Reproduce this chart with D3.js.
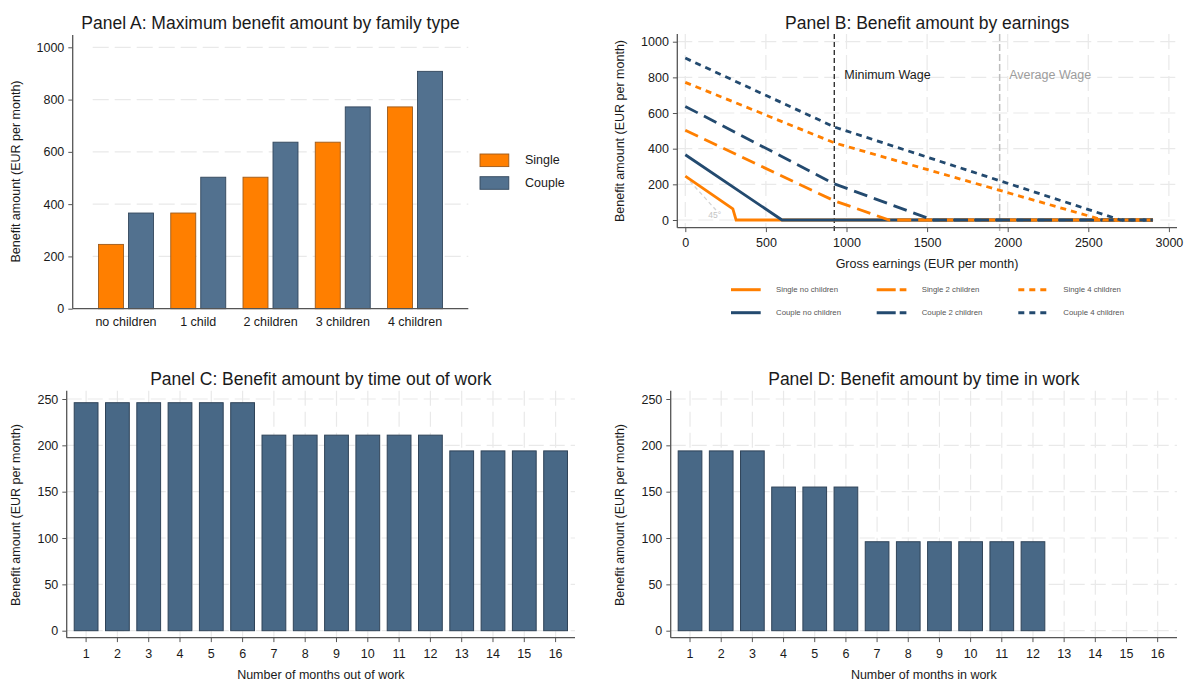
<!DOCTYPE html>
<html>
<head>
<meta charset="utf-8">
<script src="https://cdn.jsdelivr.net/npm/d3@7"></script>
<style>
  html, body { margin: 0; padding: 0; background: #ffffff; }
  svg { display: block; font-family: "Liberation Sans", Arial, sans-serif; }
</style>
</head>
<body>
<svg id="chart" width="1185" height="682"></svg>
<script>
// ---- Panel A: maximum benefit by family type ----
const familyTypes = ["no children", "1 child", "2 children", "3 children", "4 children"];
const householdTypes = ["Single", "Couple"];
const singleMax = [246, 366, 503, 637, 772];
const coupleMax = [366, 503, 637, 772, 908];
const ticksA = [0, 200, 400, 600, 800, 1000];

// ---- Panel B: benefit schedule by gross earnings (kink points) ----
const earnSingle0 = [0, 295, 315, 2900];
const benSingle0  = [246, 62, 0, 0];
const earnCouple0 = [0, 600, 2900];
const benCouple0  = [366, 0, 0];
const earnSingle2 = [0, 924, 1265, 2900];
const benSingle2  = [503, 108, 0, 0];
const earnCouple2 = [0, 924, 1535, 2900];
const benCouple2  = [637, 203, 0, 0];
const earnSingle4 = [0, 924, 2590, 2900];
const benSingle4  = [772, 433, 0, 0];
const earnCouple4 = [0, 924, 2700, 2900];
const benCouple4  = [908, 522, 0, 0];
const minimumWage = 924;
const averageWage = 1950;
const ticksBx = [0, 500, 1000, 1500, 2000, 2500, 3000];
const ticksBy = [0, 200, 400, 600, 800, 1000];
const legendNamesB = ["Single no children", "Single 2 children", "Single 4 children",
                      "Couple no children", "Couple 2 children", "Couple 4 children"];

// ---- Panels C and D: benefit by months out of / in work ----
const months = d3.range(1, 17).map(String);
const benefitOutOfWork = [246, 246, 246, 246, 246, 246, 211, 211, 211, 211, 211, 211, 194, 194, 194, 194];
const benefitInWork = [194, 194, 194, 155, 155, 155, 96, 96, 96, 96, 96, 96];
const ticksCD = [0, 50, 100, 150, 200, 250];

// ---- styles ----
const ORANGE = "#ff7f00";
const NAVY_LINE = "#234a6f";
const NAVY_BAR_A = "#52718f";
const NAVY_BAR = "#486886";
const GRID = "#e9e9e9";
const AXIS = "#555555";
const TEXT = "#1a1a1a";
const FS = 12.5;
const plain = d3.format("d");

const svg = d3.select("#chart");

function styleAxis(g, labelOffset, isX) {
  g.select(".domain").remove();
  g.selectAll(".tick line").attr("stroke", AXIS).attr("stroke-width", 1);
  g.selectAll(".tick text")
    .attr("fill", TEXT)
    .style("font-size", FS + "px")
    .attr("dy", null)
    .attr("dominant-baseline", "central");
  if (isX) g.selectAll(".tick text").attr("y", labelOffset);
  else g.selectAll(".tick text").attr("x", -labelOffset);
}

function axisLines(g, x0, x1, yTop, yAxis) {
  g.append("line").attr("x1", x0).attr("x2", x0).attr("y1", yTop).attr("y2", yAxis)
    .attr("stroke", AXIS).attr("stroke-width", 1.3);
  g.append("line").attr("x1", x0).attr("x2", x1).attr("y1", yAxis).attr("y2", yAxis)
    .attr("stroke", AXIS).attr("stroke-width", 1.3);
}

function title(text, x, y) {
  svg.append("text").attr("x", x).attr("y", y).attr("text-anchor", "middle")
    .attr("fill", TEXT).style("font-size", "17.5px").text(text);
}

function yTitle(text, x, y) {
  svg.append("text").attr("transform", `translate(${x},${y}) rotate(-90)`)
    .attr("text-anchor", "middle").attr("dominant-baseline", "central")
    .attr("fill", TEXT).style("font-size", FS + "px").text(text);
}

function xTitle(text, x, y) {
  svg.append("text").attr("x", x).attr("y", y).attr("text-anchor", "middle")
    .attr("dominant-baseline", "central")
    .attr("fill", TEXT).style("font-size", FS + "px").text(text);
}

// =================== Panel A ===================
(function () {
  const left = 72.7, right = 468.3, axisY = 308.7, top = 35;
  const y = d3.scaleLinear().domain([0, 1000]).range([308.7, 47.3]);
  const x0 = d3.scaleBand().domain(familyTypes).range([left, right])
    .paddingInner(0.239).paddingOuter(0.357);
  const x1 = d3.scaleBand().domain(householdTypes).range([0, x0.bandwidth()])
    .paddingInner(0.167).paddingOuter(0);
  const g = svg.append("g");

  g.append("g").selectAll("line").data(ticksA.filter(d => d > 0)).join("line")
    .attr("x1", left + 20).attr("x2", right).attr("y1", d => y(d)).attr("y2", d => y(d))
    .attr("stroke", GRID).attr("stroke-width", 1.2).attr("stroke-dasharray", "16,6");

  const rows = familyTypes.map((f, i) => ({ f, vals: [singleMax[i], coupleMax[i]] }));
  g.append("g").selectAll("g").data(rows).join("g")
    .attr("transform", d => `translate(${x0(d.f)},0)`)
    .selectAll("rect").data(d => d.vals.map((v, j) => ({ k: householdTypes[j], v })))
    .join("rect")
    .attr("x", d => x1(d.k)).attr("width", x1.bandwidth())
    .attr("y", d => y(d.v)).attr("height", d => y(0) - y(d.v))
    .attr("fill", d => d.k === "Single" ? ORANGE : NAVY_BAR_A)
    .attr("stroke", d => d.k === "Single" ? "#9c5a1c" : "#33475c")
    .attr("stroke-width", 0.9);

  const ya = g.append("g").attr("transform", `translate(${left},0)`)
    .call(d3.axisLeft(y).tickValues(ticksA).tickFormat(plain).tickSize(4.4).tickSizeOuter(0));
  styleAxis(ya, 8.4, false);
  const xa = g.append("g").attr("transform", `translate(0,${axisY})`)
    .call(d3.axisBottom(x0).tickSize(0).tickSizeOuter(0));
  styleAxis(xa, 13, true);
  axisLines(g, left, right, top, axisY);

  // legend
  const lg = g.append("g");
  householdTypes.forEach((k, i) => {
    const cy = 160.3 + i * 22.7;
    lg.append("rect").attr("x", 480).attr("y", cy - 6.3).attr("width", 28.8).attr("height", 12.6)
      .attr("fill", k === "Single" ? ORANGE : NAVY_BAR_A)
      .attr("stroke", k === "Single" ? "#9c5a1c" : "#33475c").attr("stroke-width", 0.9);
    lg.append("text").attr("x", 525).attr("y", cy).attr("dominant-baseline", "central")
      .attr("fill", TEXT).style("font-size", FS + "px").text(k);
  });

  title("Panel A: Maximum benefit amount by family type", (left + right) / 2, 29);
  yTitle("Benefit amount (EUR per month)", 16, 171.5);
})();

// =================== Panel B ===================
(function () {
  const left = 677.3, right = 1177, axisY = 227.7, top = 34;
  const x = d3.scaleLinear().domain([0, 3000]).range([685.3, 1168.9]);
  const y = d3.scaleLinear().domain([0, 1000]).range([220, 41.7]);
  const g = svg.append("g");

  // grid
  g.append("g").selectAll("line").data(ticksBy).join("line")
    .attr("x1", left).attr("x2", right).attr("y1", d => y(d)).attr("y2", d => y(d))
    .attr("stroke", GRID).attr("stroke-width", 1.2).attr("stroke-dasharray", "15,6");
  g.append("g").selectAll("line").data(ticksBx).join("line")
    .attr("x1", d => x(d)).attr("x2", d => x(d)).attr("y1", top).attr("y2", axisY)
    .attr("stroke", GRID).attr("stroke-width", 1.2).attr("stroke-dasharray", "15,6");

  // 45 degree reference
  g.append("line")
    .attr("x1", x(0)).attr("y1", y(246)).attr("x2", x(190)).attr("y2", y(56))
    .attr("stroke", "#d4d4d4").attr("stroke-width", 1.3).attr("stroke-dasharray", "4,3");
  g.append("text").attr("x", x(182)).attr("y", y(28)).attr("text-anchor", "middle")
    .attr("dominant-baseline", "central").attr("fill", "#c4c4c4")
    .style("font-size", "8.5px").text("45°");

  // wage markers
  g.append("line").attr("x1", x(minimumWage)).attr("x2", x(minimumWage))
    .attr("y1", top).attr("y2", axisY + 4.4)
    .attr("stroke", "#111").attr("stroke-width", 1.2).attr("stroke-dasharray", "5,3");
  g.append("line").attr("x1", x(averageWage)).attr("x2", x(averageWage))
    .attr("y1", top).attr("y2", axisY + 4.4)
    .attr("stroke", "#bdbdbd").attr("stroke-width", 1.5).attr("stroke-dasharray", "7,3");
  g.append("text").attr("x", x(minimumWage) + 10).attr("y", 75)
    .attr("dominant-baseline", "central").attr("fill", TEXT)
    .style("font-size", FS + "px").text("Minimum Wage");
  g.append("text").attr("x", x(averageWage) + 9.5).attr("y", 75)
    .attr("dominant-baseline", "central").attr("fill", "#9c9c9c")
    .style("font-size", FS + "px").text("Average Wage");

  const LONG = "14,7", SHORT = "6,5";
  const series = [
    { e: earnSingle0, b: benSingle0, c: ORANGE, d: null },
    { e: earnCouple0, b: benCouple0, c: NAVY_LINE, d: null },
    { e: earnSingle2, b: benSingle2, c: ORANGE, d: LONG },
    { e: earnCouple2, b: benCouple2, c: NAVY_LINE, d: LONG },
    { e: earnSingle4, b: benSingle4, c: ORANGE, d: SHORT },
    { e: earnCouple4, b: benCouple4, c: NAVY_LINE, d: SHORT }
  ];
  const line = d3.line().x(p => x(p[0])).y(p => y(p[1]));
  g.append("g").selectAll("path").data(series).join("path")
    .attr("d", s => line(s.e.map((v, i) => [v, s.b[i]])))
    .attr("fill", "none").attr("stroke", s => s.c).attr("stroke-width", 2.8)
    .attr("stroke-dasharray", s => s.d);

  const ya = g.append("g").attr("transform", `translate(${left},0)`)
    .call(d3.axisLeft(y).tickValues(ticksBy).tickFormat(plain).tickSize(4.4).tickSizeOuter(0));
  styleAxis(ya, 8.4, false);
  const xa = g.append("g").attr("transform", `translate(0,${axisY})`)
    .call(d3.axisBottom(x).tickValues(ticksBx).tickFormat(plain).tickSize(4.4).tickSizeOuter(0));
  styleAxis(xa, 15.6, true);
  axisLines(g, left, right, top, axisY);

  // legend (3 columns x 2 rows)
  const colX = [731, 876.7, 1018.3];
  const rowY = [289.7, 312.7];
  const legendStyle = [
    [ORANGE, null], [ORANGE, "19,4"], [ORANGE, SHORT],
    [NAVY_LINE, null], [NAVY_LINE, "19,4"], [NAVY_LINE, SHORT]
  ];
  legendNamesB.forEach((name, i) => {
    const cx = colX[i % 3], cy = rowY[Math.floor(i / 3)];
    g.append("line").attr("x1", cx).attr("x2", cx + 29.7).attr("y1", cy).attr("y2", cy)
      .attr("stroke", legendStyle[i][0]).attr("stroke-width", 3)
      .attr("stroke-dasharray", legendStyle[i][1]);
    g.append("text").attr("x", cx + 45).attr("y", cy).attr("dominant-baseline", "central")
      .attr("fill", "#555").style("font-size", "7.8px").text(name);
  });

  title("Panel B: Benefit amount by earnings", (left + right) / 2, 29);
  yTitle("Benefit amount (EUR per month)", 620.4, 131);
  xTitle("Gross earnings (EUR per month)", 927, 264.3);
})();

// =================== Panels C and D ===================
function monthPanel(values, left, right, panelTitle, axisTitle) {
  const axisY = 637.7, top = 390.7;
  const x = d3.scaleBand().domain(months).range([left, right]).paddingInner(0.24).paddingOuter(0.24);
  const y = d3.scaleLinear().domain([0, 250]).range([630.7, 399]);
  const g = svg.append("g");

  g.append("g").selectAll("line").data(ticksCD).join("line")
    .attr("x1", left).attr("x2", right).attr("y1", d => y(d)).attr("y2", d => y(d))
    .attr("stroke", GRID).attr("stroke-width", 1.2).attr("stroke-dasharray", "15,6");
  g.append("g").selectAll("line").data(months).join("line")
    .attr("x1", d => x(d) + x.bandwidth() / 2).attr("x2", d => x(d) + x.bandwidth() / 2)
    .attr("y1", top).attr("y2", axisY)
    .attr("stroke", GRID).attr("stroke-width", 1.2).attr("stroke-dasharray", "15,6");

  g.append("g").selectAll("rect").data(values).join("rect")
    .attr("x", (d, i) => x(months[i])).attr("width", x.bandwidth())
    .attr("y", d => y(d)).attr("height", d => y(0) - y(d))
    .attr("fill", NAVY_BAR).attr("stroke", "#2f4358").attr("stroke-width", 1);

  const ya = g.append("g").attr("transform", `translate(${left},0)`)
    .call(d3.axisLeft(y).tickValues(ticksCD).tickFormat(plain).tickSize(4.4).tickSizeOuter(0));
  styleAxis(ya, 8.4, false);
  const xa = g.append("g").attr("transform", `translate(0,${axisY})`)
    .call(d3.axisBottom(x).tickSize(4.4).tickSizeOuter(0));
  styleAxis(xa, 16.6, true);
  axisLines(g, left, right, top, axisY);

  title(panelTitle, (left + right) / 2, 385);
  yTitle("Benefit amount (EUR per month)", left - 50.7, 515);
  xTitle(axisTitle, (left + right) / 2, 675);
}

monthPanel(benefitOutOfWork, 66.7, 575, "Panel C: Benefit amount by time out of work", "Number of months out of work");
monthPanel(benefitInWork, 670.7, 1177, "Panel D: Benefit amount by time in work", "Number of months in work");
</script>
</body>
</html>
